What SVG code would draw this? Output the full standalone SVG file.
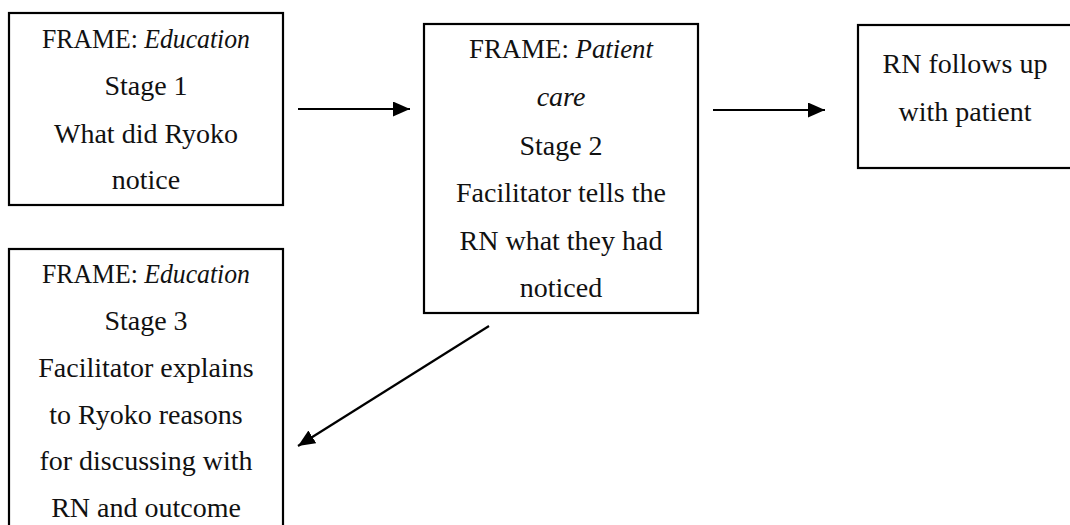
<svg xmlns="http://www.w3.org/2000/svg" width="1070" height="525" viewBox="0 0 1070 525">
<defs>
<style>
.box{fill:#fff;stroke:#000;stroke-width:2.2}
.t{font-family:"Liberation Serif","Times New Roman",serif;font-size:28px;fill:#111;text-anchor:middle}
.i{font-style:italic}
.c{stroke:#000;stroke-width:2.2;fill:none}
</style>
<marker id="ah" markerUnits="userSpaceOnUse" markerWidth="20" markerHeight="16" refX="17" refY="7.5" orient="auto">
<path d="M0,0 L17,7.5 L0,15 Z" fill="#000"/>
</marker>
</defs>
<rect width="1070" height="525" fill="#fff"/>
<g id="connectors">
<line class="c" x1="298" y1="109" x2="410" y2="109" marker-end="url(#ah)"/>
<line class="c" x1="713" y1="110" x2="825" y2="110" marker-end="url(#ah)"/>
<line class="c" x1="489" y1="326" x2="298" y2="446" marker-end="url(#ah)"/>
</g>
<g id="node1">
<rect class="box" x="9" y="13" width="274" height="192"/>
<text class="t" x="146" y="48" textLength="208" lengthAdjust="spacingAndGlyphs">FRAME: <tspan class="i">Education</tspan></text>
<text class="t" x="146" y="95">Stage 1</text>
<text class="t" x="146" y="143">What did Ryoko</text>
<text class="t" x="146" y="189">notice</text>
</g>
<g id="node2">
<rect class="box" x="424" y="24" width="274" height="289"/>
<text class="t" x="561" y="58" textLength="184" lengthAdjust="spacingAndGlyphs">FRAME: <tspan class="i">Patient</tspan></text>
<text class="t i" x="561" y="106">care</text>
<text class="t" x="561" y="155">Stage 2</text>
<text class="t" x="561" y="202">Facilitator tells the</text>
<text class="t" x="561" y="250">RN what they had</text>
<text class="t" x="561" y="297">noticed</text>
</g>
<g id="node3">
<rect class="box" x="858" y="25" width="230" height="143"/>
<text class="t" x="965" y="73">RN follows up</text>
<text class="t" x="965" y="121">with patient</text>
</g>
<g id="node4">
<rect class="box" x="9" y="249" width="274" height="300"/>
<text class="t" x="146" y="283" textLength="208" lengthAdjust="spacingAndGlyphs">FRAME: <tspan class="i">Education</tspan></text>
<text class="t" x="146" y="330">Stage 3</text>
<text class="t" x="146" y="377">Facilitator explains</text>
<text class="t" x="146" y="424">to Ryoko reasons</text>
<text class="t" x="146" y="470">for discussing with</text>
<text class="t" x="146" y="517">RN and outcome</text>
</g>
</svg>
